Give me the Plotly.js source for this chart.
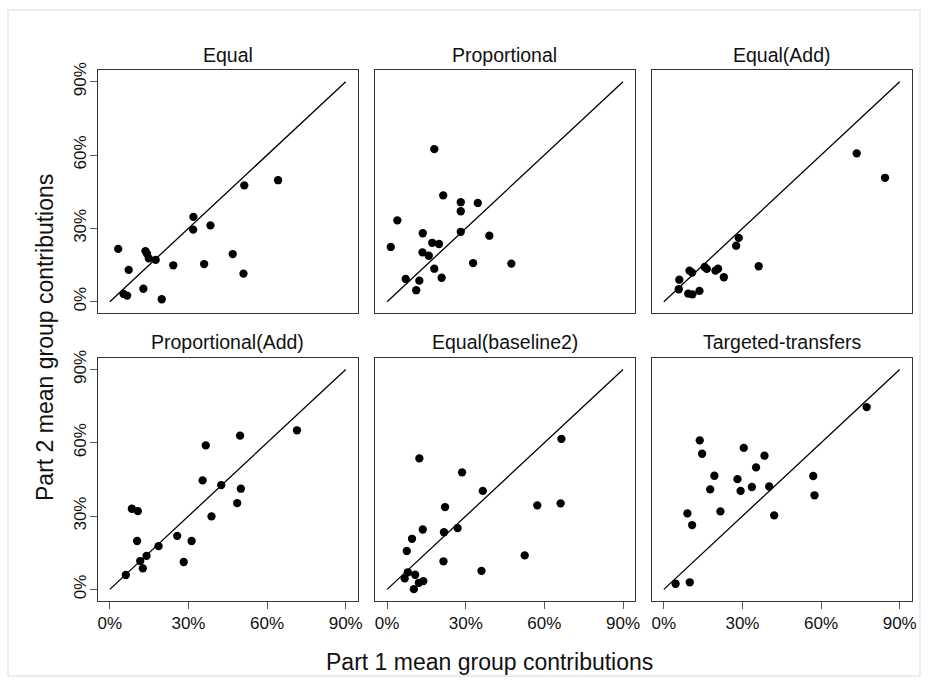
<!DOCTYPE html>
<html>
<head>
<meta charset="utf-8">
<script src="https://cdn.plot.ly/plotly-3.0.1.min.js"></script>
<style>html,body{margin:0;padding:0;background:#fff;}#chart{width:928px;height:684px;}</style>
</head>
<body>
<div id="chart"></div>
<script>
// ---- data (percent values) ----
const panelTitles = ['Equal', 'Proportional', 'Equal(Add)', 'Proportional(Add)', 'Equal(baseline2)', 'Targeted-transfers'];

const equalX = [3.2,7.2,5.2,6.6,12.8,19.8,13.6,14.2,14.9,17.5,24.2,31.9,31.8,38.4,36.0,46.9,51.0,51.3,64.2];
const equalY = [21.6,13.0,3.2,2.5,5.3,1.0,20.7,19.6,17.7,17.1,14.9,34.7,29.5,31.2,15.4,19.5,11.5,47.6,49.7];

const propX = [18.0,21.4,28.1,34.6,28.1,3.9,13.6,28.1,39.0,1.4,17.2,19.8,13.5,15.9,18.0,32.8,47.4,7.1,12.3,20.8,11.1];
const propY = [62.4,43.5,40.7,40.4,37.0,33.3,28.0,28.6,27.0,22.4,24.1,23.6,20.2,18.8,13.5,15.8,15.6,9.3,8.6,9.8,4.7];

const equalAddX = [73.6,84.4,28.6,27.6,36.2,9.8,10.8,15.6,16.4,19.7,20.7,22.9,5.9,5.7,9.3,10.9,13.6];
const equalAddY = [60.7,50.7,26.1,22.9,14.5,12.7,11.9,14.2,13.4,12.7,13.5,10.0,9.0,5.1,3.3,3.0,4.4];

const propAddX = [71.4,49.7,36.6,35.4,42.5,50.0,48.6,38.8,8.4,10.7,10.4,25.7,31.2,18.6,14.0,11.6,12.6,28.2,6.1];
const propAddY = [65.1,62.9,58.9,44.6,42.7,41.2,35.3,29.9,33.0,32.0,19.8,21.9,19.8,17.7,13.7,11.6,8.6,11.2,5.9];

const equalB2X = [66.5,66.2,57.3,12.3,28.6,36.5,22.1,26.9,21.7,13.6,9.5,7.5,21.5,52.5,36.0,7.9,10.7,6.7,13.8,12.1,10.2];
const equalB2Y = [61.6,35.2,34.4,53.6,47.9,40.3,33.7,25.1,23.4,24.5,20.7,15.7,11.5,13.9,7.6,7.0,6.0,4.5,3.4,2.7,0.1];

const targetX = [77.4,13.7,14.6,30.5,38.4,35.2,19.3,28.1,17.7,29.3,33.6,40.2,57.0,57.5,42.1,21.6,9.0,10.8,4.5,9.9];
const targetY = [74.6,61.0,55.5,57.9,54.7,49.9,46.5,45.1,40.9,40.3,41.9,42.1,46.4,38.5,30.3,31.9,31.1,26.3,2.3,2.9];

const diagonal = [0, 90];
const tickVals = [0, 30, 60, 90];
const tickLabels = ['0%', '30%', '60%', '90%'];
const xTitle = 'Part 1 mean group contributions';
const yTitle = 'Part 2 mean group contributions';

// ---- build ----
const W = 928, H = 684;
const seriesX = [equalX, propX, equalAddX, propAddX, equalB2X, targetX];
const seriesY = [equalY, propY, equalAddY, propAddY, equalB2Y, targetY];

const colPx = [[97.5, 357.5], [374.8, 634.8], [651.5, 911.5]];
const rowPx = [[70, 313.3], [357.7, 601]];
const FONT = 'Arial, "Liberation Sans", sans-serif';

const traces = [];
const layout = {
  width: W, height: H,
  margin: {l: 0, r: 0, t: 0, b: 0},
  paper_bgcolor: '#ffffff',
  plot_bgcolor: '#ffffff',
  showlegend: false,
  font: {family: FONT, color: '#111', size: 17},
  annotations: [],
  shapes: [{
    type: 'rect', xref: 'paper', yref: 'paper',
    x0: 8 / W, x1: 920 / W, y0: 1 - 676 / H, y1: 1 - 10 / H,
    line: {color: '#e8edf1', width: 2}, layer: 'below'
  }]
};

for (let i = 0; i < 6; i++) {
  const r = Math.floor(i / 3), c = i % 3;
  const n = i + 1;
  const xa = 'x' + (n === 1 ? '' : n), ya = 'y' + (n === 1 ? '' : n);
  const xkey = 'xaxis' + (n === 1 ? '' : n), ykey = 'yaxis' + (n === 1 ? '' : n);

  traces.push({
    x: diagonal, y: diagonal, xaxis: xa, yaxis: ya,
    mode: 'lines', type: 'scatter', line: {color: '#000', width: 1.3}, hoverinfo: 'skip'
  });
  traces.push({
    x: seriesX[i], y: seriesY[i], xaxis: xa, yaxis: ya,
    mode: 'markers', type: 'scatter', marker: {color: '#000', size: 8.3}
  });

  const bottom = r === 1, left = c === 0;
  layout[xkey] = {
    domain: [colPx[c][0] / W, colPx[c][1] / W],
    anchor: ya,
    range: [-4.7, 94.5],
    showgrid: false, zeroline: false,
    showline: true, mirror: true, linecolor: '#333', linewidth: 1,
    tickvals: tickVals, ticktext: tickLabels,
    ticks: bottom ? 'outside' : '', ticklen: 7, tickcolor: '#555', tickwidth: 1,
    showticklabels: bottom,
    tickfont: {family: FONT, size: 17, color: '#111'},
    fixedrange: true
  };
  layout[ykey] = {
    domain: [1 - rowPx[r][1] / H, 1 - rowPx[r][0] / H],
    anchor: xa,
    range: [-4.75, 94.8],
    showgrid: false, zeroline: false,
    showline: true, mirror: true, linecolor: '#333', linewidth: 1,
    tickvals: tickVals, ticktext: tickLabels,
    ticks: left ? 'outside' : '', ticklen: 7, tickcolor: '#555', tickwidth: 1,
    showticklabels: left,
    tickangle: -90,
    ticklabelstandoff: -3,
    tickfont: {family: FONT, size: 17, color: '#111'},
    fixedrange: true
  };

  layout.annotations.push({
    text: panelTitles[i], xref: 'paper', yref: 'paper',
    x: (colPx[c][0] + colPx[c][1]) / 2 / W,
    y: 1 - (r === 0 ? 55 : 342) / H,
    xanchor: 'center', yanchor: 'middle', showarrow: false,
    font: {family: FONT, size: 19.5, color: '#111'}
  });
}

layout.annotations.push({
  text: xTitle, xref: 'paper', yref: 'paper',
  x: 489 / W, y: 1 - 662 / H, xanchor: 'center', yanchor: 'middle', showarrow: false,
  font: {family: FONT, size: 23, color: '#111'}
});
layout.annotations.push({
  text: yTitle, xref: 'paper', yref: 'paper', textangle: -90,
  x: 45 / W, y: 1 - 338 / H, xanchor: 'center', yanchor: 'middle', showarrow: false,
  font: {family: FONT, size: 23, color: '#111'}
});

Plotly.newPlot('chart', traces, layout, {displayModeBar: false, staticPlot: true});
</script>
</body>
</html>
